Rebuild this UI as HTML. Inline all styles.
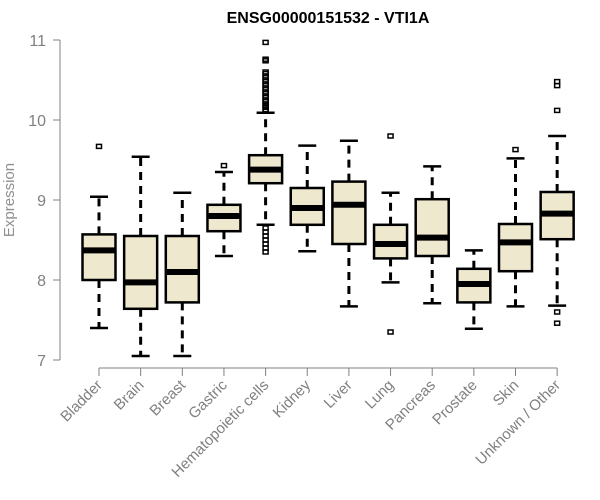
<!DOCTYPE html>
<html><head><meta charset="utf-8"><style>
body{margin:0;background:#fff}
svg{display:block;font-family:"Liberation Sans",Arial,sans-serif}
</style></head><body>
<svg id="chart" width="600" height="500">
<text x="328" y="23" text-anchor="middle" font-weight="bold" font-size="16">ENSG00000151532 - VTI1A</text>
<text transform="translate(14,200) rotate(-90)" text-anchor="middle" font-size="15" fill="#909090">Expression</text>
<g id="axes"></g><g id="boxes"></g>
</svg>
<script>
const categories=["Bladder","Brain","Breast","Gastric","Hematopoietic cells","Kidney","Liver","Lung","Pancreas","Prostate","Skin","Unknown / Other"];
const q1=[8.0,7.64,7.72,8.61,9.21,8.69,8.45,8.27,8.30,7.72,8.11,8.51];
const medians=[8.37,7.97,8.10,8.80,9.38,8.90,8.94,8.45,8.53,7.95,8.47,8.83];
const q3=[8.57,8.55,8.55,8.94,9.56,9.15,9.23,8.69,9.01,8.14,8.70,9.10];
const whiskerLow=[7.40,7.05,7.05,8.30,8.69,8.36,7.67,7.97,7.71,7.39,7.67,7.68];
const whiskerHigh=[9.04,9.54,9.09,9.35,10.09,9.68,9.74,9.09,9.42,8.37,9.52,9.80];
const outliers=[[9.67],[],[],[9.43],[10.11,10.13,10.16,10.18,10.2,10.23,10.25,10.28,10.3,10.33,10.35,10.38,10.4,10.43,10.45,10.48,10.5,10.53,10.55,10.58,10.6,10.74,10.76,10.97,8.35,8.4,8.45,8.5,8.55,8.6,8.65],[],[],[9.80,7.35],[],[],[9.63],[10.48,10.43,10.12,7.60,7.46]];
const yTicks=[7,8,9,10,11];
const NS="http://www.w3.org/2000/svg";
const y=v=>360-(v-7)*80;
const x=i=>99+i*41.65;
function mk(tag,attrs,parent){const e=document.createElementNS(NS,tag);for(const k in attrs)e.setAttribute(k,attrs[k]);parent.appendChild(e);return e;}
const ax=document.getElementById('axes'),bx=document.getElementById('boxes');
const gray="#808080";
let l=mk('line',{x1:60,y1:y(7),x2:60,y2:y(11),stroke:gray},ax);


yTicks.forEach(t=>{
 let tk=mk('line',{x1:53,x2:60,y1:y(t),y2:y(t),stroke:gray},ax);
 
 
 let tx=mk('text',{x:46,y:y(t)+6,'text-anchor':'end','font-size':16,fill:gray},ax);
 tx.textContent=t;
 
 
});
let xl=mk('line',{x1:x(0),x2:x(categories.length-1),y1:368,y2:368,stroke:gray},ax);


categories.forEach((c,i)=>{
 const cx=x(i);
 let tk=mk('line',{x1:cx,x2:cx,y1:368,y2:376,stroke:gray},ax);
 
 
 let tx=mk('text',{transform:`translate(${cx+4},${386}) rotate(-45)`,'text-anchor':'end','font-size':15,fill:gray},ax);
 tx.textContent=c;
 
 
 const g=mk('g',{},bx);
 
 
 mk('line',{x1:cx,x2:cx,y1:y(q3[i]),y2:y(whiskerHigh[i]),stroke:'#000','stroke-width':3,'stroke-dasharray':'8,6'},g);
 mk('line',{x1:cx,x2:cx,y1:y(q1[i]),y2:y(whiskerLow[i]),stroke:'#000','stroke-width':3,'stroke-dasharray':'8,6'},g);
 mk('line',{x1:cx-9,x2:cx+9,y1:y(whiskerHigh[i]),y2:y(whiskerHigh[i]),stroke:'#000','stroke-width':2.5},g);
 mk('line',{x1:cx-9,x2:cx+9,y1:y(whiskerLow[i]),y2:y(whiskerLow[i]),stroke:'#000','stroke-width':2.5},g);
 mk('rect',{x:cx-16.5,y:y(q3[i]),width:33,height:y(q1[i])-y(q3[i]),fill:'#EEE8CF',stroke:'#000','stroke-width':2.5},g);
 mk('line',{x1:cx-16.5,x2:cx+16.5,y1:y(medians[i]),y2:y(medians[i]),stroke:'#000','stroke-width':6},g);
 outliers[i].forEach(v=>{
  let o=mk('rect',{x:cx-2.5,y:y(v)-2,width:5,height:4,fill:'none',stroke:'#000','stroke-width':1.5},g);
  
  
 });
});
</script>
</body></html>
